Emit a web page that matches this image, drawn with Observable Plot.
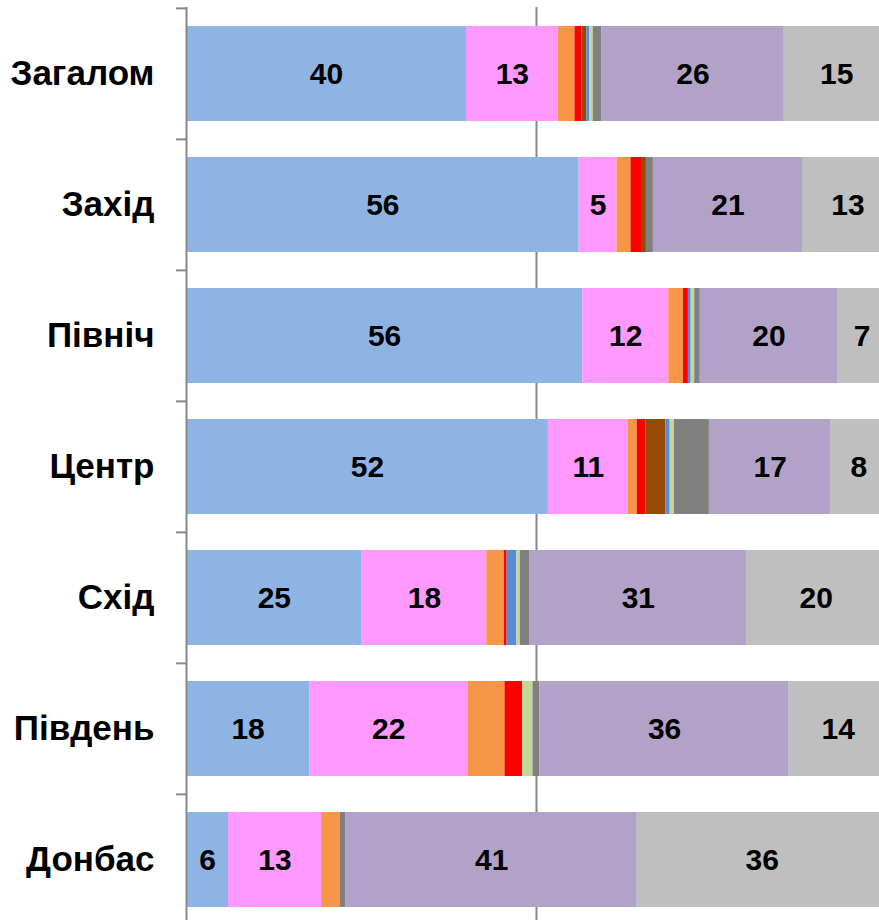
<!DOCTYPE html>
<html>
<head>
<meta charset="utf-8">
<script src="https://cdn.jsdelivr.net/npm/d3@7"></script>
<script src="https://cdn.jsdelivr.net/npm/@observablehq/plot@0.6"></script>
<style>
  html, body { margin: 0; padding: 0; background: #fff; }
  #chart svg { display: block; overflow: hidden; }
</style>
</head>
<body>
<div id="chart"></div>
<script>
const categories = ["Загалом", "Захід", "Північ", "Центр", "Схід", "Південь", "Донбас"];

const seriesNames = ["s1", "s2", "s3", "s4", "s5", "s6", "s7", "s8", "s9", "s10"];
const seriesColors = ["#8EB4E3", "#FF99FF", "#F79646", "#FF0000", "#984807", "#558ED5", "#C3D69B", "#808080", "#B3A2C7", "#BFBFBF"];

const s1 = [40, 56.1, 56.6, 51.7, 25.1, 17.6, 6];
const s2 = [13.1, 5.4, 12.3, 11.4, 17.8, 22.6, 13.3];
const s3 = [2.4, 2.0, 2.1, 1.3, 2.5, 5.3, 2.7];
const s4 = [1.0, 1.5, 0.7, 1.2, 0.4, 2.5, 0];
const s5 = [0.7, 0.7, 0, 2.9, 0, 0, 0];
const s6 = [0.4, 0, 0.4, 0.6, 1.4, 0, 0];
const s7 = [0.5, 0, 0.5, 0.6, 0.5, 1.5, 0];
const s8 = [1.2, 1.0, 0.8, 5.0, 1.3, 1.0, 0.8];
const s9 = [26.1, 21.3, 19.6, 17.4, 31.1, 35.6, 41.6];
const s10 = [15, 13, 7, 7.9, 19.7, 14, 35.7];

const s1Labels = [40, 56, 56, 52, 25, 18, 6];
const s2Labels = [13, 5, 12, 11, 18, 22, 13];
const s9Labels = [26, 21, 20, 17, 31, 36, 41];
const s10Labels = [15, 13, 7, 8, 20, 14, 36];

const seriesValues = [s1, s2, s3, s4, s5, s6, s7, s8, s9, s10];
const seriesLabels = [s1Labels, s2Labels, null, null, null, null, null, null, s9Labels, s10Labels];

const data = [];
categories.forEach((c, ci) => {
  seriesNames.forEach((s, si) => {
    const lab = seriesLabels[si];
    data.push({category: c, series: s, value: seriesValues[si][ci], label: lab ? String(lab[ci]) : ""});
  });
});

const font = "'Liberation Sans', Arial, sans-serif";
const yTop = 7, yBottom = 926;
const step = (yBottom - yTop) / categories.length;
const pxPerUnit = 7;

const chart = Plot.plot({
  width: 879,
  height: 920,
  margin: 0,
  style: {fontFamily: font, background: "#fff"},
  x: {domain: [0, 100], range: [186, 886], axis: null},
  y: {domain: categories, range: [yTop, yBottom], paddingInner: 0.275, paddingOuter: 0.1375, axis: null},
  color: {domain: seriesNames, range: seriesColors},
  marks: [
    Plot.ruleX([50], {stroke: "#888", strokeWidth: 2, insetTop: 7}),
    Plot.barX(data, Plot.stackX({y: "category", x: "value", fill: "series", order: null})),
    Plot.text(data, Plot.stackX({y: "category", x: "value", text: "label", order: null,
      fontSize: 30, fontWeight: "bold", fill: "#000"})),
    Plot.ruleX([0], {stroke: "#888", strokeWidth: 2, insetTop: 7}),
    Plot.ruleY(categories, {y: d => d, dy: -step / 2, x1: -10 / pxPerUnit, x2: 0, stroke: "#888", strokeWidth: 2}),
    Plot.text(categories, {y: d => d, x: 0, dx: -32, text: d => d, textAnchor: "end",
      fontSize: 35, fontWeight: "bold", fill: "#000"})
  ]
});

document.getElementById("chart").appendChild(chart);
</script>
</body>
</html>
